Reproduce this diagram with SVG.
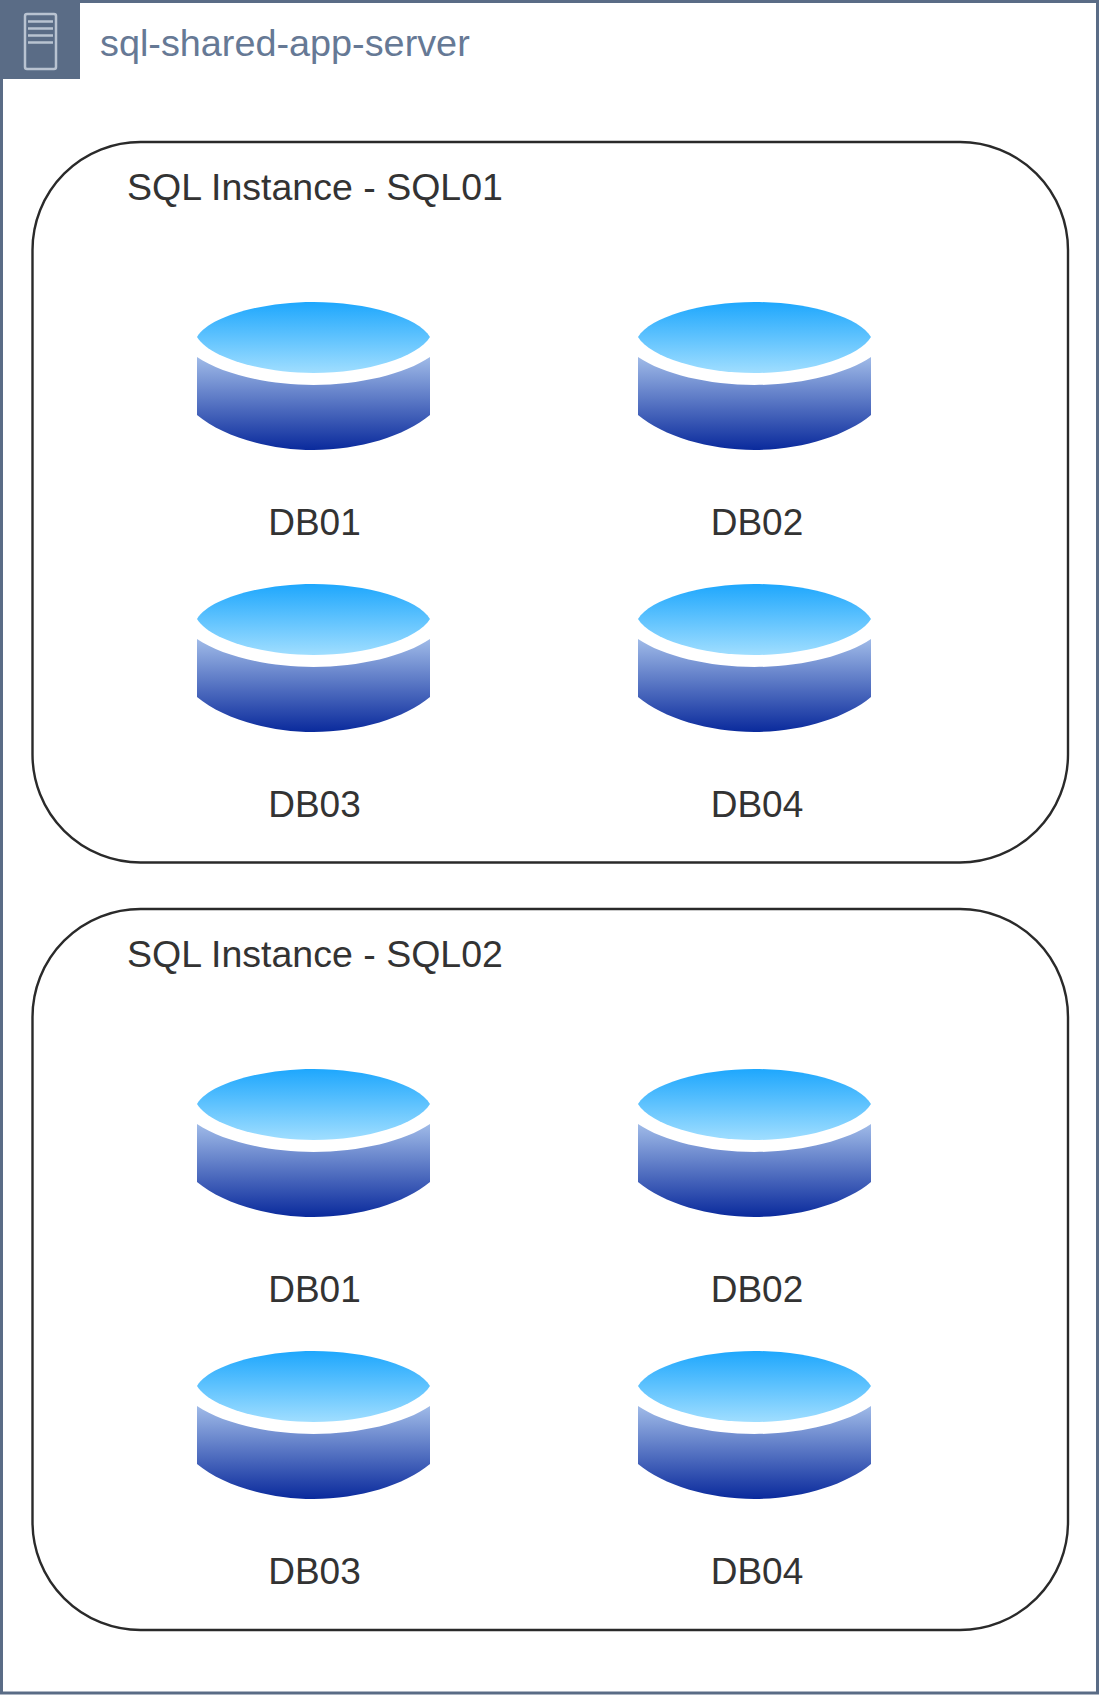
<svg xmlns="http://www.w3.org/2000/svg" xmlns:xlink="http://www.w3.org/1999/xlink" width="1100" height="1695" viewBox="0 0 1100 1695">
<style>
text{font-family:"Liberation Sans",Arial,sans-serif;font-size:37px;fill:#333}
.title{fill:#667995;font-size:37.800px}
.head{font-size:37.500px}
.inst{fill:#fff;stroke:#2a2a2a;stroke-width:2.400}
.lbl{text-anchor:middle}
</style>
<defs>
<linearGradient id="topG" x1="0" y1="0" x2="0" y2="1"><stop offset="0" stop-color="#1ea7fd"/><stop offset="1" stop-color="#a0deff"/></linearGradient>
<linearGradient id="bodyG" x1="0" y1="0" x2="0" y2="1"><stop offset="0" stop-color="#a0bbe8"/><stop offset="1" stop-color="#0a2a9c"/></linearGradient>
<g id="cyl">
<path d="M197,357C222,374 268,385 313.500,385C359,385 405,374 430,357V415C405,436 359,450 313.500,450C268,450 222,436 197,415Z" fill="url(#bodyG)"/>
<path d="M197,337C209,317 260,302 313.500,302C367,302 418,317 430,337C418,357 367,373 313.500,373C260,373 209,357 197,337Z" fill="url(#topG)"/>
</g>
</defs>
<rect id="server" x="1.500" y="1.500" width="1096" height="1691.500" fill="#fff" stroke="#5a6c86" stroke-width="3"/>
<g id="server-header">
<rect x="0" y="0" width="80" height="79" fill="#5a6c86"/>
<g fill="none" stroke="#b9c3d1" stroke-width="2.500"><rect x="25" y="14" width="31" height="55" rx="2"/><path d="M28,21.500H53M28,28.500H53M28,35.500H53M28,42.500H53"/></g>
<text class="title" x="100" y="56">sql-shared-app-server</text>
</g>
<g id="connectors"/>
<g id="sql01">
<rect class="inst" x="32.500" y="142" width="1035.500" height="720.500" rx="108" ry="108"/>
<text class="head" x="127" y="200">SQL Instance - SQL01</text>
</g>
<g id="sql01-db01"><use xlink:href="#cyl" href="#cyl"/><text class="lbl" x="314.500" y="535">DB01</text></g>
<g id="sql01-db02"><use xlink:href="#cyl" href="#cyl" x="441"/><text class="lbl" x="757" y="535">DB02</text></g>
<g id="sql01-db03"><use xlink:href="#cyl" href="#cyl" y="282"/><text class="lbl" x="314.500" y="817">DB03</text></g>
<g id="sql01-db04"><use xlink:href="#cyl" href="#cyl" x="441" y="282"/><text class="lbl" x="757" y="817">DB04</text></g>
<g id="sql02">
<rect class="inst" x="32.500" y="909" width="1035.500" height="721" rx="108" ry="108"/>
<text class="head" x="127" y="967">SQL Instance - SQL02</text>
</g>
<g id="sql02-db01"><use xlink:href="#cyl" href="#cyl" y="767"/><text class="lbl" x="314.500" y="1302">DB01</text></g>
<g id="sql02-db02"><use xlink:href="#cyl" href="#cyl" x="441" y="767"/><text class="lbl" x="757" y="1302">DB02</text></g>
<g id="sql02-db03"><use xlink:href="#cyl" href="#cyl" y="1049"/><text class="lbl" x="314.500" y="1584">DB03</text></g>
<g id="sql02-db04"><use xlink:href="#cyl" href="#cyl" x="441" y="1049"/><text class="lbl" x="757" y="1584">DB04</text></g>
</svg>
